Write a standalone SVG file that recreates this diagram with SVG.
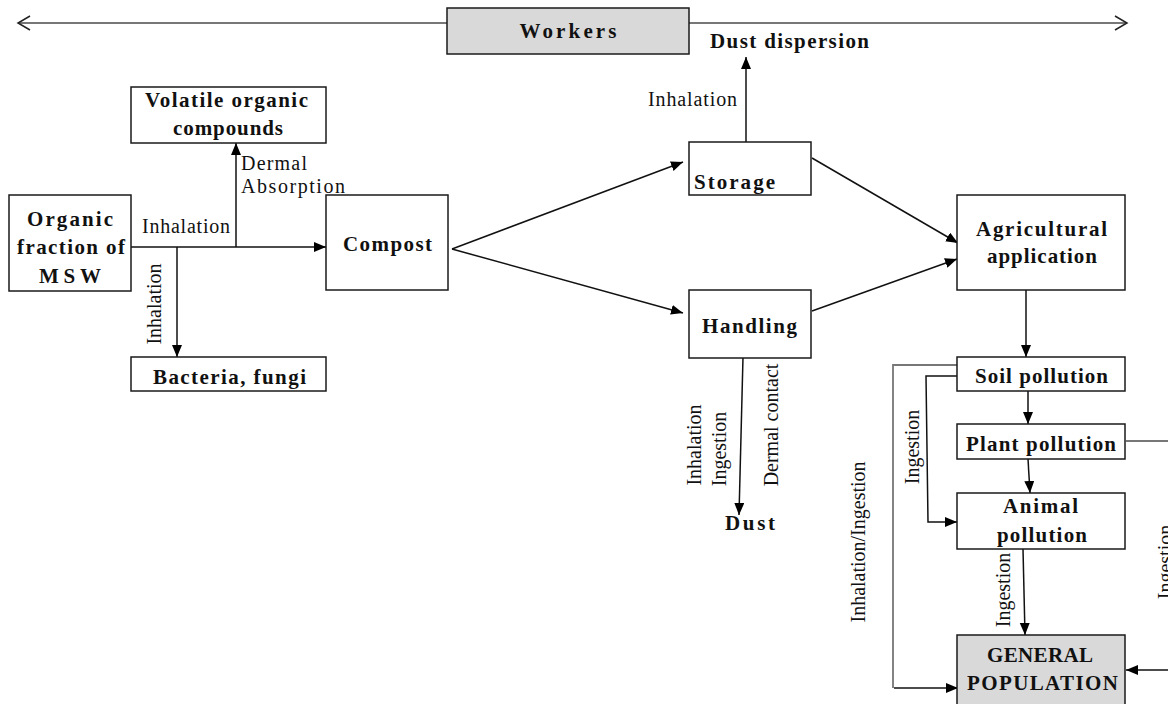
<svg xmlns="http://www.w3.org/2000/svg" width="1168" height="704" viewBox="0 0 1168 704">
<defs>
<marker id="arr" markerUnits="userSpaceOnUse" markerWidth="13" markerHeight="11" refX="12" refY="5" orient="auto"><path d="M0,0 L12,5 L0,10 z" fill="#000"/></marker>
<marker id="open" markerUnits="userSpaceOnUse" markerWidth="16" markerHeight="16" refX="14" refY="8" orient="auto"><path d="M2,1 L14,8 L2,15" fill="none" stroke="#222" stroke-width="1.5"/></marker>
<style>
.box{fill:#fff;stroke:#1a1a1a;stroke-width:1.5}
.grey{fill:#d9d9d9}
.b{font-family:"Liberation Serif",serif;font-weight:bold;font-size:21px;fill:#111}
.r{font-family:"Liberation Serif",serif;font-size:20px;fill:#111}
.v{font-family:"Liberation Serif",serif;font-size:20px;fill:#111;text-anchor:middle}
.c{stroke:#111;stroke-width:1.5;fill:none}
.g{stroke:#777;stroke-width:1.8;fill:none}
</style>
</defs>
<g id="connectors">
<line class="g" x1="447" y1="23" x2="18" y2="23" marker-end="url(#open)"/>
<line class="g" x1="689" y1="23" x2="1127" y2="23" marker-end="url(#open)"/>
<line class="c" x1="746" y1="142" x2="746" y2="57" marker-end="url(#arr)"/>
<line class="c" x1="131" y1="247" x2="326" y2="247" marker-end="url(#arr)"/>
<line class="c" x1="236" y1="247" x2="236" y2="143" marker-end="url(#arr)"/>
<line class="c" x1="177" y1="247" x2="177" y2="357" marker-end="url(#arr)"/>
<line class="c" x1="452" y1="249" x2="683" y2="162" marker-end="url(#arr)"/>
<line class="c" x1="452" y1="249" x2="683" y2="313" marker-end="url(#arr)"/>
<line class="c" x1="812" y1="158" x2="958" y2="243" marker-end="url(#arr)"/>
<line class="c" x1="812" y1="311" x2="957" y2="259" marker-end="url(#arr)"/>
<line class="c" x1="743" y1="357" x2="739" y2="515" marker-end="url(#arr)"/>
<line class="c" x1="1026" y1="290" x2="1026" y2="357" marker-end="url(#arr)"/>
<line class="c" x1="1028" y1="391" x2="1028" y2="424" marker-end="url(#arr)"/>
<line class="c" x1="1028" y1="459" x2="1030" y2="493" marker-end="url(#arr)"/>
<line class="c" x1="1023" y1="549" x2="1025" y2="635" marker-end="url(#arr)"/>
<polyline class="g" points="957,365 893,365 893,688"/>
<line class="c" x1="894" y1="688" x2="958" y2="688" marker-end="url(#arr)"/>
<polyline class="c" points="957,376 926,376 928,522 957,522" marker-end="url(#arr)"/>
<line class="g" x1="1126" y1="441" x2="1168" y2="441"/>
<line class="c" x1="1168" y1="670" x2="1126" y2="670" marker-end="url(#arr)"/>
</g>
<g id="workers"><rect class="box grey" x="447" y="8" width="242" height="46"/><text class="b" x="568" y="38" text-anchor="middle" textLength="97" lengthAdjust="spacing">Workers</text></g>
<g id="dust-dispersion"><text class="b" x="710" y="48" textLength="159" lengthAdjust="spacing">Dust dispersion</text></g>
<g id="voc"><rect class="box" x="131" y="87" width="195" height="56"/><text class="b" x="145" y="107" textLength="163" lengthAdjust="spacing">Volatile organic</text><text class="b" x="173" y="135" textLength="110" lengthAdjust="spacing">compounds</text></g>
<g id="msw"><rect class="box" x="9" y="195" width="122" height="96"/><text class="b" x="27" y="226" textLength="86" lengthAdjust="spacing">Organic</text><text class="b" x="17" y="254" textLength="108" lengthAdjust="spacing">fraction of</text><text class="b" x="39" y="283" textLength="62" lengthAdjust="spacing">MSW</text></g>
<g id="compost"><rect class="box" x="326" y="195" width="122" height="95"/><text class="b" x="343" y="251" textLength="89" lengthAdjust="spacing">Compost</text></g>
<g id="bacteria"><rect class="box" x="131" y="357" width="195" height="34"/><text class="b" x="153" y="384" textLength="153" lengthAdjust="spacing">Bacteria, fungi</text></g>
<g id="storage"><rect class="box" x="689" y="142" width="122" height="53"/><text class="b" x="694" y="189" textLength="81" lengthAdjust="spacing">Storage</text></g>
<g id="handling"><rect class="box" x="689" y="290" width="122" height="68"/><text class="b" x="702" y="333" textLength="95" lengthAdjust="spacing">Handling</text></g>
<g id="dust"><text class="b" x="725" y="530" textLength="50" lengthAdjust="spacing">Dust</text></g>
<g id="agricultural"><rect class="box" x="957" y="195" width="168" height="95"/><text class="b" x="976" y="236" textLength="131" lengthAdjust="spacing">Agricultural</text><text class="b" x="987" y="263" textLength="110" lengthAdjust="spacing">application</text></g>
<g id="soil"><rect class="box" x="957" y="357" width="168" height="34"/><text class="b" x="975" y="383" textLength="133" lengthAdjust="spacing">Soil pollution</text></g>
<g id="plant"><rect class="box" x="957" y="424" width="168" height="35"/><text class="b" x="966" y="451" textLength="150" lengthAdjust="spacing">Plant pollution</text></g>
<g id="animal"><rect class="box" x="957" y="493" width="168" height="56"/><text class="b" x="1003" y="513" textLength="75" lengthAdjust="spacing">Animal</text><text class="b" x="997" y="542" textLength="90" lengthAdjust="spacing">pollution</text></g>
<g id="general-population"><rect class="box grey" x="957" y="635" width="168" height="75"/><text class="b" x="987" y="662" textLength="106" lengthAdjust="spacing">GENERAL</text><text class="b" x="967" y="690" textLength="151" lengthAdjust="spacing">POPULATION</text></g>
<g id="labels">
<text class="r" x="648" y="106" textLength="89" lengthAdjust="spacing">Inhalation</text>
<text class="r" x="241" y="170" textLength="66" lengthAdjust="spacing">Dermal</text>
<text class="r" x="241" y="193" textLength="104" lengthAdjust="spacing">Absorption</text>
<text class="r" x="142" y="233" textLength="88" lengthAdjust="spacing">Inhalation</text>
<text class="v" transform="translate(161,304) rotate(-90)">Inhalation</text>
<text class="v" transform="translate(701,445) rotate(-90)">Inhalation</text>
<text class="v" transform="translate(726,449) rotate(-90)">Ingestion</text>
<text class="v" transform="translate(778,425) rotate(-90)">Dermal contact</text>
<text class="v" transform="translate(1010,590) rotate(-90)">Ingestion</text>
<text class="v" transform="translate(919,447) rotate(-90)">Ingestion</text>
<text class="v" transform="translate(865,542) rotate(-90)">Inhalation/Ingestion</text>
<text class="v" transform="translate(1172,562) rotate(-90)">Ingestion</text>
</g>
</svg>
